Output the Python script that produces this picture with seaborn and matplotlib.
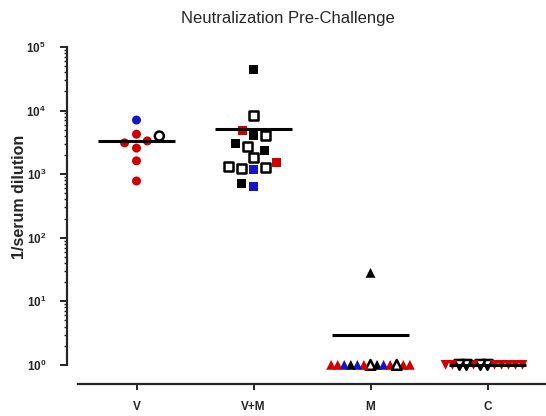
import numpy as np
import pandas as pd
import matplotlib
matplotlib.use("Agg")
import matplotlib.pyplot as plt
import seaborn as sns

# data
groups = ["V", "V+M", "M", "C"]

v_vals = [3980, 7100, 3100, 2570, 3330, 4250, 1620, 780]
v_kind = ["open", "blue", "red", "red", "red", "red", "red", "red"]

vm_vals = [43500, 8220, 4790, 3990, 3990, 2985, 2680, 2320,
           1860, 1300, 1210, 1165, 1250, 1550, 650, 725]
vm_kind = ["black", "open", "red", "black", "open", "black", "open", "black",
           "open", "open", "open", "blue", "open", "red", "blue", "black"]

m_vals = [28, 1, 1, 1, 1, 1, 1, 1, 1, 1, 1, 1, 1, 1]
m_kind = ["black", "open", "red", "black", "blue", "black", "blue", "red",
          "blue", "red", "red", "red", "open", "red"]

c_vals = [1, 1, 1, 1, 1, 1, 1, 1, 1, 1, 1, 1]
c_kind = ["open", "open", "red", "red", "red", "open", "red",
          "open", "red", "red", "red", "red"]

markers = {"V": "o", "V+M": "s", "M": "^", "C": "v"}
# marker size used only for the swarm layout (rows of 1s overlap in the original)
swarm_size = {"V": 9.0, "V+M": 8.5, "M": 4.5, "C": 4.8}
fill = {"red": "#d00000", "blue": "#1414c8", "black": "black", "open": "white"}

df = pd.concat([
    pd.DataFrame({"group": g, "value": vals, "kind": kind})
    for g, vals, kind in [("V", v_vals, v_kind), ("V+M", vm_vals, vm_kind),
                          ("M", m_vals, m_kind), ("C", c_vals, c_kind)]
], ignore_index=True)

sns.set_style("ticks")
plt.rcParams["font.family"] = ["Liberation Sans", "DejaVu Sans"]
plt.rcParams["mathtext.default"] = "regular"

fig = plt.figure(figsize=(5.46, 4.16), dpi=100)
ax = fig.add_axes([78 / 546, 32 / 416, 468 / 546, 337 / 416])

colls = {}
for g in groups:
    sub = df[df["group"] == g]
    n_before = len(ax.collections)
    sns.swarmplot(data=sub, x="group", y="value", order=groups, ax=ax,
                  marker=markers[g], size=swarm_size[g], color="black",
                  linewidth=0, log_scale=True, zorder=2)
    # seaborn adds empty collections for the other categories too
    for coll in ax.collections[n_before:]:
        if len(coll.get_offsets()) == len(sub):
            colls[g] = coll

ax.set_ylim(0.5, 1e5)
ax.set_xlim(-0.5, 3.5)

# let the swarm lay out, then freeze positions and restyle the markers
fig.canvas.draw()
for g in groups:
    coll = colls[g]
    if "draw" in coll.__dict__:
        del coll.__dict__["draw"]
    kinds = df.loc[df["group"] == g, "kind"].tolist()
    coll.set_facecolors([fill[k] for k in kinds])
    coll.set_edgecolors(["black" if k == "open" else fill[k] for k in kinds])
    coll.set_linewidths([1.8 if k == "open" else 0 for k in kinds])
    coll.set_sizes([50 if markers[g] in "^v" else 42])

for i, g in enumerate(groups):
    mean = df.loc[df["group"] == g, "value"].mean()
    ax.plot([i - 0.33, i + 0.33], [mean, mean], color="black", lw=2.2,
            zorder=3, solid_capstyle="butt")

ax.set_xlabel("")
ax.set_ylabel("1/serum dilution", fontsize=11.5, fontweight="bold")
ax.yaxis.set_label_coords(-0.11, 0.555)
ax.set_title("Neutralization Pre-Challenge", fontsize=12, pad=17, x=0.448)

ax.spines["top"].set_visible(False)
ax.spines["right"].set_visible(False)
ax.spines["left"].set_position(("outward", 8))
ax.spines["left"].set_bounds(1, 1e5)
ax.spines["left"].set_linewidth(1.6)
ax.spines["bottom"].set_linewidth(1.6)

ax.set_yticks([1, 10, 100, 1000, 1e4, 1e5])
ax.set_yticklabels([r"10$^{0}$", r"10$^{1}$", r"10$^{2}$", r"10$^{3}$",
                    r"10$^{4}$", r"10$^{5}$"])
minor = [m * 10 ** e for e in range(5) for m in range(2, 10)]
ax.yaxis.set_minor_locator(matplotlib.ticker.FixedLocator(minor))
ax.yaxis.set_minor_formatter(matplotlib.ticker.NullFormatter())
ax.tick_params(axis="y", which="major", length=5, width=1.4, pad=10, labelsize=8.5)
ax.tick_params(axis="y", which="minor", length=2.5, width=1)
ax.tick_params(axis="x", length=4, width=1.4, pad=8, labelsize=8.5)
for lab in ax.get_yticklabels() + ax.get_xticklabels():
    lab.set_fontweight("bold")

fig.savefig("out.png", dpi=100)
